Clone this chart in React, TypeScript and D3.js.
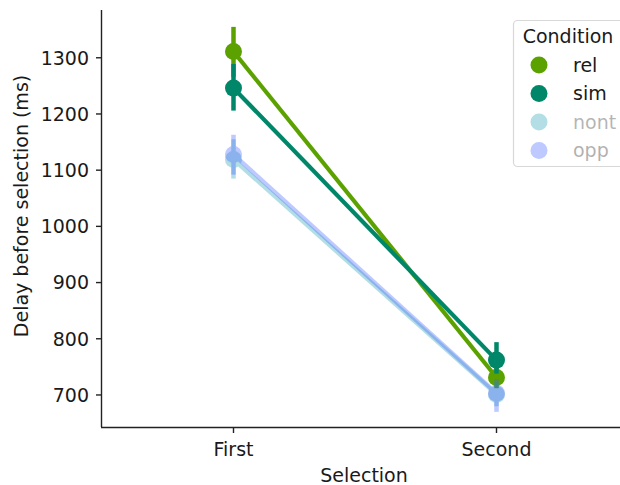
// App.tsx
// point plot of delay before selection, First vs Second, per condition
import * as d3 from 'd3';
import React from 'react';

const selections = ['First', 'Second'];
const conditions = ['rel', 'sim', 'nont', 'opp'];
// mean delay (ms) per condition, ordered like selections
const relMean = [1311, 731];
const simMean = [1246, 762];
const nontMean = [1119, 701];
const oppMean = [1128, 703];
// confidence interval bounds
const relLow = [1266, 712];
const relHigh = [1355, 752];
const simLow = [1206, 738];
const simHigh = [1289, 794];
const nontLow = [1085, 680];
const nontHigh = [1155, 722];
const oppLow = [1092, 670];
const oppHigh = [1163, 728];
const yTicks = [700, 800, 900, 1000, 1100, 1200, 1300];

const colors = ['#5ba200', '#00876a', '#1298ad', '#3f62ff'];
const alphas = [1, 1, 0.32, 0.34];

const W = 620, H = 485;

export default function App() {
    const means = [relMean, simMean, nontMean, oppMean];
    const lows = [relLow, simLow, nontLow, oppLow];
    const highs = [relHigh, simHigh, nontHigh, oppHigh];

    const x = d3.scaleBand().domain(selections).range([102, 628]).padding(0);
    const cx = (s) => x(s) + x.bandwidth() / 2;
    const y = d3.scaleLinear().domain([643, 1385]).range([427, 10]);
    const line = d3.line().x((d, i) => cx(selections[i])).y((d) => y(d));

    const font = 'DejaVu Sans, sans-serif';
    const fs = 19;

    return (
        <div style={{ position: 'fixed', left: 0, top: 0 }}>
            <svg width={W} height={H} style={{ display: 'block', background: '#fff' }} fontFamily={font}>
                {/* series */}
                {conditions.map((c, k) => (
                    <g key={c} opacity={alphas[k]}>
                        <path d={line(means[k])} fill="none" stroke={colors[k]} strokeWidth={4.2} />
                        {selections.map((s, i) => (
                            <line key={s} x1={cx(s)} x2={cx(s)} y1={y(lows[k][i])} y2={y(highs[k][i])}
                                stroke={colors[k]} strokeWidth={4.5} />
                        ))}
                        {selections.map((s, i) => (
                            <circle key={s} cx={cx(s)} cy={y(means[k][i])} r={8.5} fill={colors[k]} />
                        ))}
                    </g>
                ))}

                {/* axes */}
                <line x1={101.5} x2={101.5} y1={10} y2={427} stroke="#222" strokeWidth={1.4} />
                <line x1={101} x2={628} y1={427.5} y2={427.5} stroke="#222" strokeWidth={1.4} />
                {yTicks.map((t) => (
                    <g key={t}>
                        <line x1={96} x2={101} y1={y(t)} y2={y(t)} stroke="#222" strokeWidth={1.4} />
                        <text x={89} y={y(t)} dy="0.36em" textAnchor="end" fontSize={fs} fill="#1a1a1a">{t}</text>
                    </g>
                ))}
                {selections.map((s) => (
                    <g key={s}>
                        <line x1={cx(s)} x2={cx(s)} y1={428} y2={433} stroke="#222" strokeWidth={1.4} />
                        <text x={cx(s)} y={456} textAnchor="middle" fontSize={fs} fill="#1a1a1a">{s}</text>
                    </g>
                ))}
                <text x={364} y={482} textAnchor="middle" fontSize={fs} fill="#1a1a1a">Selection</text>
                <text transform="translate(28,206) rotate(-90)" textAnchor="middle" fontSize={fs} fill="#1a1a1a">
                    Delay before selection (ms)
                </text>

                {/* legend */}
                <rect x={513.5} y={20.5} width={120} height={146} rx={4} fill="#fff" fillOpacity={0.85}
                    stroke="#d8d8d8" strokeWidth={1.2} />
                <text x={568} y={43} textAnchor="middle" fontSize={fs} fill="#1a1a1a">Condition</text>
                {conditions.map((c, k) => (
                    <g key={c} transform={`translate(0,${65 + k * 28.5})`}>
                        <circle cx={539} cy={0} r={8.5} fill={colors[k]} opacity={alphas[k]} />
                        <text x={573} y={0} dy="0.36em" fontSize={fs} fill="#1a1a1a" opacity={alphas[k]}>{c}</text>
                    </g>
                ))}
            </svg>
        </div>
    );
}
